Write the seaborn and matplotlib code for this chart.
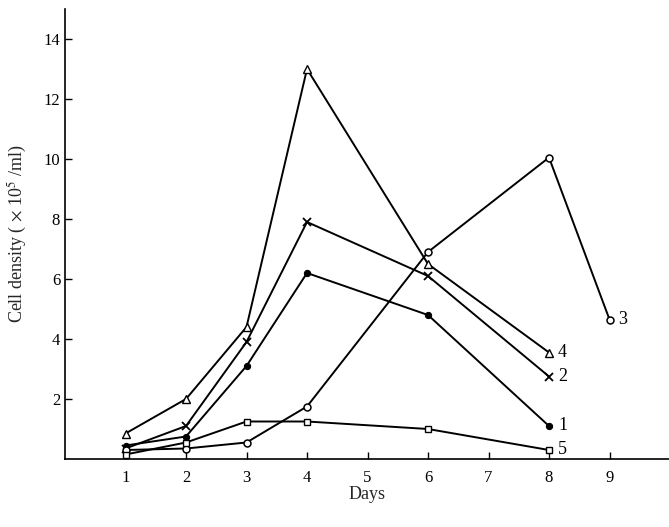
import matplotlib
matplotlib.use("Agg")
import matplotlib.pyplot as plt
import seaborn as sns
import pandas as pd

days_a = [1, 2, 3, 4, 6, 8]
days_3 = [1, 2, 3, 4, 6, 8, 9]
s1 = [0.45, 0.75, 3.1, 6.2, 4.8, 1.1]
s2 = [0.35, 1.1, 3.9, 7.9, 6.1, 2.75]
s3 = [0.3, 0.35, 0.55, 1.75, 6.9, 10.05, 4.65]
s4 = [0.85, 2.0, 4.4, 13.0, 6.5, 3.55]
s5 = [0.15, 0.55, 1.25, 1.25, 1.0, 0.3]
series_names = ["1", "2", "3", "4", "5"]
x_ticks = [1, 2, 3, 4, 5, 6, 7, 8, 9]
y_ticks = [2, 4, 6, 8, 10, 12, 14]

sns.set_theme(style="ticks")
plt.rcParams['font.family'] = ['Liberation Serif', 'DejaVu Serif']
plt.rcParams['mathtext.fontset'] = 'stix'

fig = plt.figure(figsize=(6.69, 5.27), dpi=100)
ax = fig.add_axes([65/669, 68/527, 605/669, 450/527])

data = [
    (days_a, s1, dict(marker='o', markerfacecolor='black', markersize=4.5)),
    (days_a, s2, dict(marker='x', markersize=6, markeredgewidth=1.3)),
    (days_3, s3, dict(marker='o', markerfacecolor='white', markersize=5, markeredgewidth=1.1)),
    (days_a, s4, dict(marker='^', markerfacecolor='white', markersize=6, markeredgewidth=1.0)),
    (days_a, s5, dict(marker='s', markerfacecolor='white', markersize=4.5, markeredgewidth=1.0)),
]
for (xs, ys, kw), name in zip(data, series_names):
    df = pd.DataFrame({"Days": xs, "v": ys})
    sns.lineplot(data=df, x="Days", y="v", ax=ax, color='black', linewidth=1.4,
                 markeredgecolor='black', **kw)
    ax.text(xs[-1] + 0.15, ys[-1], name, fontsize=13, va='center', ha='left', color='black')

ax.set_xlim(0, 10)
ax.set_ylim(0, 15)
ax.set_xticks(x_ticks)
ax.set_yticks(y_ticks)
ax.tick_params(direction='in', length=5, width=1, labelsize=12, colors='black')
ax.tick_params(axis='x', pad=8)
for s in ['top', 'right']:
    ax.spines[s].set_visible(False)
for s in ['left', 'bottom']:
    ax.spines[s].set_linewidth(1.2)
    ax.spines[s].set_color('black')
ax.set_xlabel("Days", fontsize=13, labelpad=0)
ax.set_ylabel("Cell density ( $\\times$ 10$^5$ /ml)", fontsize=13, labelpad=10)

fig.savefig("out.png", dpi=100)
